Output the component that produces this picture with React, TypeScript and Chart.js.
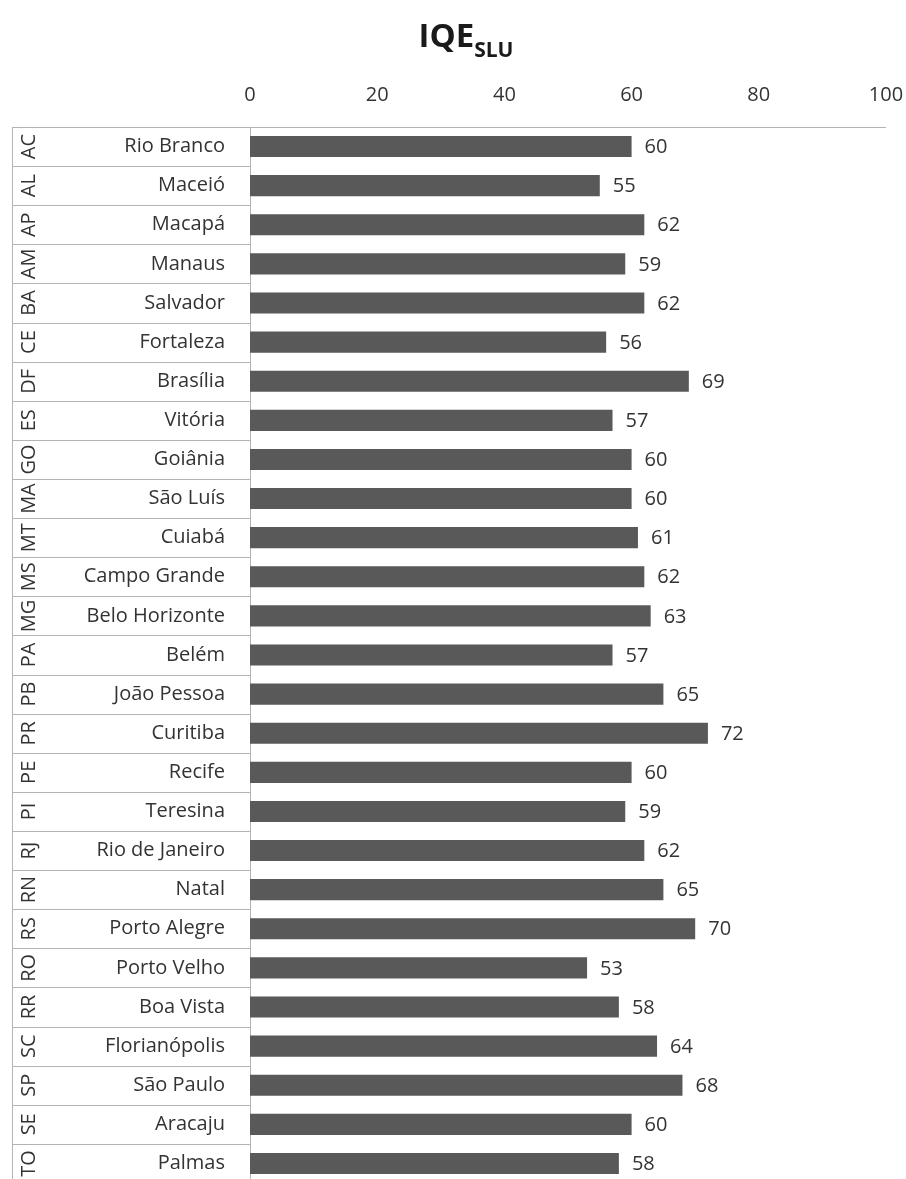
import React, { useEffect, useRef } from "react";
import { Chart, registerables } from "chart.js";

Chart.register(...registerables);

// State codes (outer category level) and capitals (inner level)
const states = [
  "AC", "AL", "AP", "AM", "BA", "CE", "DF", "ES", "GO", "MA", "MT", "MS", "MG", "PA",
  "PB", "PR", "PE", "PI", "RJ", "RN", "RS", "RO", "RR", "SC", "SP", "SE", "TO",
];
const cities = [
  "Rio Branco", "Maceió", "Macapá", "Manaus", "Salvador", "Fortaleza", "Brasília",
  "Vitória", "Goiânia", "São Luís", "Cuiabá", "Campo Grande", "Belo Horizonte", "Belém",
  "João Pessoa", "Curitiba", "Recife", "Teresina", "Rio de Janeiro", "Natal",
  "Porto Alegre", "Porto Velho", "Boa Vista", "Florianópolis", "São Paulo", "Aracaju", "Palmas",
];
const iqeValues = [
  60, 55, 62, 59, 62, 56, 69, 57, 60, 60, 61, 62, 63, 57, 65, 72, 60, 59, 62, 65, 70, 53,
  58, 64, 68, 60, 58,
];
const xTicks = [0, 20, 40, 60, 80, 100];

const FONT = "'Open Sans', 'Noto Sans', sans-serif";
const TEXT = "#333333";
const LINE = "#b3b3b3";
const BAR = "#595959";
const LEFT_EDGE = 12;

// Title with subscript: IQE_SLU
const titlePlugin = {
  id: "iqeTitle",
  afterDraw(chart: any) {
    const ctx = chart.ctx;
    ctx.save();
    ctx.fillStyle = "#1a1a1a";
    ctx.textBaseline = "alphabetic";
    ctx.textAlign = "left";
    ctx.font = `bold 33px ${FONT}`;
    const mainW = ctx.measureText("IQE").width;
    ctx.font = `bold 21px ${FONT}`;
    const subW = ctx.measureText("SLU").width;
    const x0 = 466 - (mainW + subW) / 2;
    ctx.font = `bold 33px ${FONT}`;
    ctx.fillText("IQE", x0, 47);
    ctx.font = `bold 21px ${FONT}`;
    ctx.fillText("SLU", x0 + mainW, 57);
    ctx.restore();
  },
};

// Outer category column (state codes), row separators and the top rule
const categoryFramePlugin = {
  id: "categoryFrame",
  afterDraw(chart: any) {
    const ctx = chart.ctx;
    const y = chart.scales.y;
    const area = chart.chartArea;
    ctx.save();
    ctx.strokeStyle = LINE;
    ctx.lineWidth = 1;
    ctx.beginPath();
    ctx.moveTo(LEFT_EDGE, area.top + 0.5);
    ctx.lineTo(area.right, area.top + 0.5);
    ctx.moveTo(LEFT_EDGE + 0.5, area.top);
    ctx.lineTo(LEFT_EDGE + 0.5, area.bottom);
    for (let i = 0; i < states.length - 1; i++) {
      const yb = Math.round((y.getPixelForValue(i) + y.getPixelForValue(i + 1)) / 2) + 0.5;
      ctx.moveTo(LEFT_EDGE, yb);
      ctx.lineTo(area.left, yb);
    }
    ctx.stroke();

    ctx.fillStyle = TEXT;
    ctx.font = `20px ${FONT}`;
    ctx.textAlign = "center";
    ctx.textBaseline = "middle";
    states.forEach((s, i) => {
      const yc = y.getPixelForValue(i);
      ctx.save();
      ctx.translate(28, yc);
      ctx.rotate(-Math.PI / 2);
      ctx.fillText(s, 0, 1);
      ctx.restore();
    });
    ctx.restore();
  },
};

// Value labels to the right of each bar
const valueLabelPlugin = {
  id: "valueLabels",
  afterDatasetsDraw(chart: any) {
    const ctx = chart.ctx;
    const meta = chart.getDatasetMeta(0);
    ctx.save();
    ctx.fillStyle = TEXT;
    ctx.font = `20px ${FONT}`;
    ctx.textAlign = "left";
    ctx.textBaseline = "middle";
    meta.data.forEach((bar: any, i: number) => {
      ctx.fillText(String(iqeValues[i]), bar.x + 13, bar.y + 1);
    });
    ctx.restore();
  },
};

const noScalePadding = (scale: any) => {
  scale.paddingLeft = 0;
  scale.paddingRight = 0;
  scale.paddingTop = 0;
  scale.paddingBottom = 0;
};

export default function App() {
  const canvasRef = useRef<HTMLCanvasElement | null>(null);

  useEffect(() => {
    if (!canvasRef.current) return;
    const chart = new Chart(canvasRef.current, {
      type: "bar",
      data: {
        labels: cities,
        datasets: [
          {
            data: iqeValues,
            backgroundColor: BAR,
            borderWidth: 0,
            categoryPercentage: 1,
            barPercentage: 0.54,
          },
        ],
      },
      options: {
        indexAxis: "y",
        responsive: false,
        animation: false,
        layout: { padding: { top: 0, left: 0, right: 20, bottom: 0 } },
        plugins: {
          legend: { display: false },
          tooltip: { enabled: false },
          title: { display: false },
        },
        scales: {
          x: {
            position: "top",
            min: 0,
            max: 100,
            afterBuildTicks: (scale: any) => {
              scale.ticks = xTicks.map((v) => ({ value: v }));
            },
            afterFit: (scale: any) => {
              scale.height = 127;
              noScalePadding(scale);
            },
            grid: { display: false, drawTicks: false },
            border: { display: false },
            ticks: {
              padding: 20,
              color: TEXT,
              font: { family: FONT, size: 20 },
              maxRotation: 0,
            },
          },
          y: {
            afterFit: (scale: any) => {
              scale.width = 250;
              noScalePadding(scale);
            },
            grid: { display: false, drawTicks: false },
            border: { display: true, color: LINE, width: 1 },
            ticks: {
              padding: 25,
              color: TEXT,
              font: { family: FONT, size: 20 },
              autoSkip: false,
            },
          },
        },
      },
      plugins: [titlePlugin, categoryFramePlugin, valueLabelPlugin],
    } as any);
    return () => chart.destroy();
  }, []);

  return (
    <div
      style={{
        position: "fixed",
        left: 0,
        top: 0,
        width: 906,
        height: 1179,
        overflow: "hidden",
        background: "#ffffff",
      }}
    >
      <canvas
        ref={canvasRef}
        width={906}
        height={1183}
        style={{ width: 906, height: 1183, display: "block" }}
      />
    </div>
  );
}
